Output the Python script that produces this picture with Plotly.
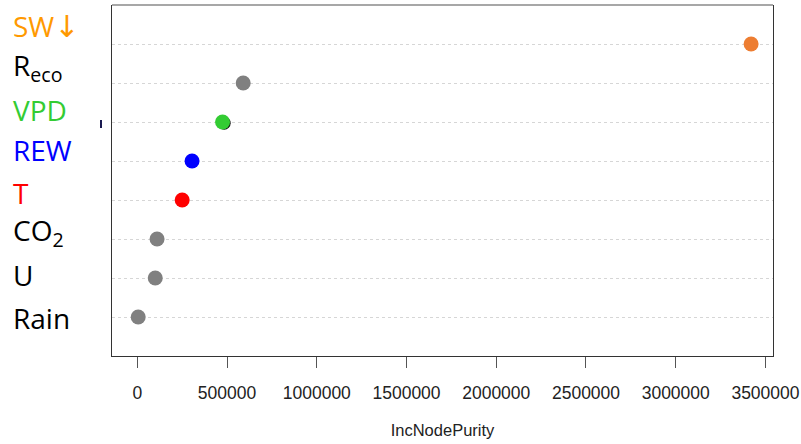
import plotly.graph_objects as go

# ---- data ----
variables = ["Rain", "U", "CO2", "T", "REW", "VPD", "Reco", "SW"]
inc_node_purity = [5000, 100000, 110000, 250000, 305000, 475000, 590000, 3420000]
point_colors = ["#808080", "#808080", "#808080", "#FF0000", "#0000FF", "#33CC33", "#808080", "#ED7D31"]
hidden_vpd_value = [484000]          # original black point partly visible under the green VPD dot
hidden_vpd_row = [5.97]
label_texts = ["SW<span style='font-family:DejaVu Sans;font-size:30px'>↓</span>",
               "R<sub>eco</sub>", "VPD", "REW", "T", "CO<sub>2</sub>", "U", "Rain"]
label_colors = ["#FF9900", "#000000", "#33CC33", "#0000FF", "#FF0000", "#000000", "#000000", "#000000"]
x_tick_values = [0, 500000, 1000000, 1500000, 2000000, 2500000, 3000000, 3500000]
x_tick_labels = ["0", "500000", "1000000", "1500000", "2000000", "2500000", "3000000", "3500000"]

rows = list(range(1, len(variables) + 1))

W, H = 801, 444
ML, MR, MT, MB = 112, 28, 5, 88
PW, PH = W - ML - MR, H - MT - MB

def px_to_paper_x(px):
    return (px - ML) / PW

def px_to_paper_y(py):
    return (H - MB - py) / PH

fig = go.Figure()

fig.add_trace(go.Scatter(
    x=hidden_vpd_value, y=hidden_vpd_row, mode="markers",
    marker=dict(color="#111111", size=13, line=dict(width=0)),
    showlegend=False, hoverinfo="skip"))

fig.add_trace(go.Scatter(
    x=inc_node_purity, y=rows, mode="markers",
    marker=dict(color=point_colors, size=15, line=dict(width=0)),
    text=variables, showlegend=False,
    hovertemplate="%{text}: %{x}<extra></extra>"))

# left-side variable labels (top to bottom)
label_centers_px = [26, 67, 110, 150, 193, 232, 275, 318]
for txt, col, cy in zip(label_texts, label_colors, label_centers_px):
    fig.add_annotation(
        text=txt, xref="paper", yref="paper",
        x=px_to_paper_x(11), y=px_to_paper_y(cy),
        xanchor="left", yanchor="middle", showarrow=False,
        font=dict(family="Open Sans", size=28, color=col))

# top border (lighter grey) and stray mark left of axis
fig.add_shape(type="line", xref="paper", yref="paper",
              x0=0, x1=1, y0=1, y1=1, line=dict(color="#8a8a8a", width=1.5))
fig.add_shape(type="rect", xref="paper", yref="paper",
              x0=px_to_paper_x(100), x1=px_to_paper_x(102),
              y0=px_to_paper_y(128), y1=px_to_paper_y(120),
              fillcolor="#1a1a50", line=dict(width=0))

fig.update_layout(
    width=W, height=H,
    margin=dict(l=ML, r=MR, t=MT, b=MB),
    paper_bgcolor="white", plot_bgcolor="white",
    font=dict(family="Liberation Sans", color="#222222"),
    xaxis=dict(
        range=[-141000, 3542000], tickmode="array",
        tickvals=x_tick_values, ticktext=x_tick_labels,
        showgrid=False, zeroline=False,
        showline=True, linecolor="#333333", linewidth=1.2, mirror=False,
        ticks="outside", ticklen=11, tickcolor="#555555", tickwidth=1,
        tickfont=dict(family="Liberation Sans", size=17.5, color="#222222"),
        ticklabelstandoff=10,
        title=dict(text="IncNodePurity", standoff=22,
                   font=dict(family="Liberation Sans", size=16.5, color="#222222")),
        automargin=False),
    yaxis=dict(
        range=[0, 9], tickmode="array", tickvals=rows, showticklabels=False,
        showgrid=True, gridcolor="#d6d6d6", griddash="dot", gridwidth=1,
        zeroline=False, ticks="",
        showline=True, linecolor="#333333", linewidth=1.2, mirror=True,
        automargin=False),
)

fig.write_html("out.html")
